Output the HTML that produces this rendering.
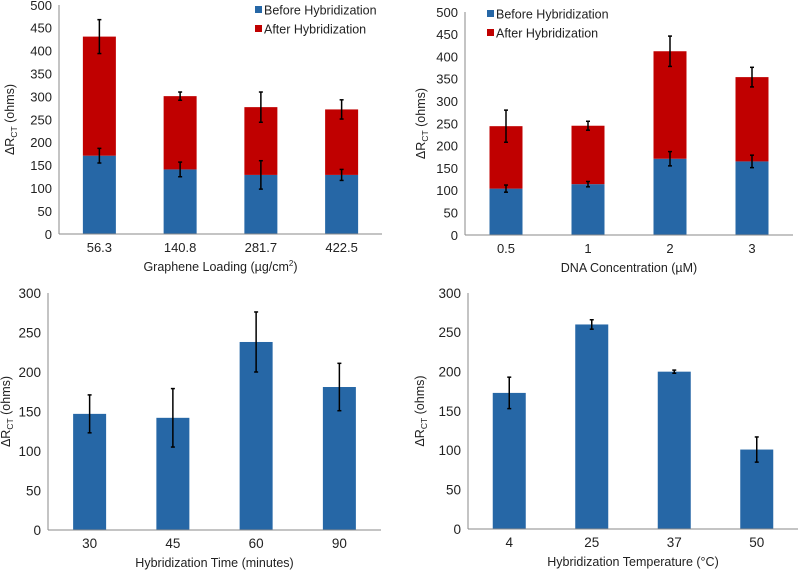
<!DOCTYPE html>
<html><head><meta charset="utf-8">
<style>
html,body{margin:0;padding:0;background:#fff;}
svg{display:block;font-family:"Liberation Sans",Arial,sans-serif;}
</style></head>
<body>
<svg id="fig" width="798" height="570" viewBox="0 0 798 570" xmlns="http://www.w3.org/2000/svg"></svg>
<script>
// Panel A: graphene loading
const catsA = ["56.3","140.8","281.7","422.5"];
const beforeA = [171,141,129,129];
const totalA = [431,301,277,272];
const errBeforeA = [16,16,31,12];
const errTotalA = [37,9,33,21];
// Panel B: DNA concentration
const catsB = ["0.5","1","2","3"];
const beforeB = [104,114,171,165];
const totalB = [244,245,412,354];
const errBeforeB = [8,6,16,14];
const errTotalB = [36,10,34,22];
// Panel C: hybridization time
const catsC = ["30","45","60","90"];
const valuesC = [147,142,238,181];
const errC = [24,37,38,30];
// Panel D: hybridization temperature
const catsD = ["4","25","37","50"];
const valuesD = [173,260,200,101];
const errD = [20,6,2,16];
const ticksA = [0,50,100,150,200,250,300,350,400,450,500];
const ticksC = [0,50,100,150,200,250,300];

const NS="http://www.w3.org/2000/svg";
const svg=document.getElementById('fig');
function mk(tag,attrs,parent){const e=document.createElementNS(NS,tag);for(const k in attrs)e.setAttribute(k,attrs[k]);(parent||svg).appendChild(e);return e;}

function panel(cfg){
  const g=mk('g',{});
  
  
  const ymax=cfg.ticks[cfg.ticks.length-1];
  const yS=v=>cfg.y0-(v/ymax)*(cfg.y0-cfg.yTop);
  const step=(cfg.xEnd-cfg.x0)/cfg.cats.length;
  const xC=i=>cfg.x0+step*(i+0.5);
  const bw=33;
  const fs=cfg.fs||13;
  const ya=mk('line',{x1:cfg.x0,y1:cfg.yTop,x2:cfg.x0,y2:cfg.y0,stroke:'#8a8a8a','stroke-width':1},g);
  
  cfg.ticks.forEach(t=>{
    const tx=mk('text',{x:cfg.x0-7,y:yS(t)+4.8,'text-anchor':'end','font-size':fs,fill:'#222'},g);
    tx.textContent=t;
    
  });
  cfg.cats.forEach((c,i)=>{
    const cx=xC(i);
    const b=cfg.before[i];
    const r1=mk('rect',{x:cx-bw/2,y:yS(b),width:bw,height:cfg.y0-yS(b),fill:'#2667a6'},g);
    
    if(cfg.total){
      const t=cfg.total[i];
      const r2=mk('rect',{x:cx-bw/2,y:yS(t),width:bw,height:yS(b)-yS(t),fill:'#c00000'},g);
      
    }
    const errs=[[b,cfg.errBefore[i]]];
    if(cfg.total) errs.push([cfg.total[i],cfg.errTotal[i]]);
    errs.forEach(([v,e])=>{
      const eg=mk('g',{stroke:'#000','stroke-width':1.5},g);
      
      mk('line',{x1:cx,x2:cx,y1:yS(v+e),y2:yS(v-e)},eg);
      mk('line',{x1:cx-2,x2:cx+2,y1:yS(v+e),y2:yS(v+e)},eg);
      mk('line',{x1:cx-2,x2:cx+2,y1:yS(v-e),y2:yS(v-e)},eg);
    });
    const xl=mk('text',{x:cx,y:cfg.y0+18,'text-anchor':'middle','font-size':fs,fill:'#222'},g);
    xl.textContent=c;
    
  });
  const xa=mk('line',{x1:cfg.x0,y1:cfg.y0,x2:cfg.xEnd,y2:cfg.y0,stroke:'#8a8a8a','stroke-width':1},g);
  
  const xt=mk('text',{x:(cfg.x0+cfg.xEnd)/2,y:cfg.y0+37,'text-anchor':'middle','font-size':12.5,fill:'#222'},g);
  xt.innerHTML=cfg.xTitle;
  
  const ty=(cfg.y0+cfg.yTop)/2;
  const yt=mk('text',{x:cfg.yTitleX,y:ty,'text-anchor':'middle','font-size':12.5,fill:'#222',transform:`rotate(-90 ${cfg.yTitleX} ${ty})`},g);
  yt.innerHTML='ΔR<tspan font-size="8.5" dy="3">CT</tspan><tspan dy="-3"> (ohms)</tspan>';
  
  if(cfg.legend){
    const lg=mk('g',{},g);
    
    [['Before Hybridization','#2667a6'],['After Hybridization','#c00000']].forEach(([t,col],k)=>{
      const ly=cfg.legend[1]+k*19;
      const e=mk('g',{},lg);
      
      mk('rect',{x:cfg.legend[0],y:ly-4,width:7,height:7,fill:col},e);
      const tt=mk('text',{x:cfg.legend[0]+9,y:ly+4.5,'font-size':12.5,fill:'#222'},e);
      tt.textContent=t;
    });
  }
}
panel({name:'chart-graphene-loading',cats:catsA,before:beforeA,total:totalA,errBefore:errBeforeA,errTotal:errTotalA,ticks:ticksA,x0:59,xEnd:382,y0:234,yTop:5,yTitleX:14,xTitle:'Graphene Loading (µg/cm<tspan font-size="8" dy="-5">2</tspan><tspan dy="5">)</tspan>',legend:[255,10]});
panel({name:'chart-dna-concentration',cats:catsB,before:beforeB,total:totalB,errBefore:errBeforeB,errTotal:errTotalB,ticks:ticksA,x0:465,xEnd:793,y0:235,yTop:12,yTitleX:425,xTitle:'DNA Concentration (µM)',legend:[487,14]});
panel({name:'chart-hybridization-time',cats:catsC,before:valuesC,errBefore:errC,ticks:ticksC,x0:48,xEnd:381,y0:530,yTop:293,yTitleX:10,fs:13.5,xTitle:'Hybridization Time (minutes)'});
panel({name:'chart-hybridization-temperature',cats:catsD,before:valuesD,errBefore:errD,ticks:ticksC,x0:468,xEnd:798,y0:529,yTop:293,yTitleX:424,fs:13.5,xTitle:'Hybridization Temperature (°C)'});
</script>
</body></html>
